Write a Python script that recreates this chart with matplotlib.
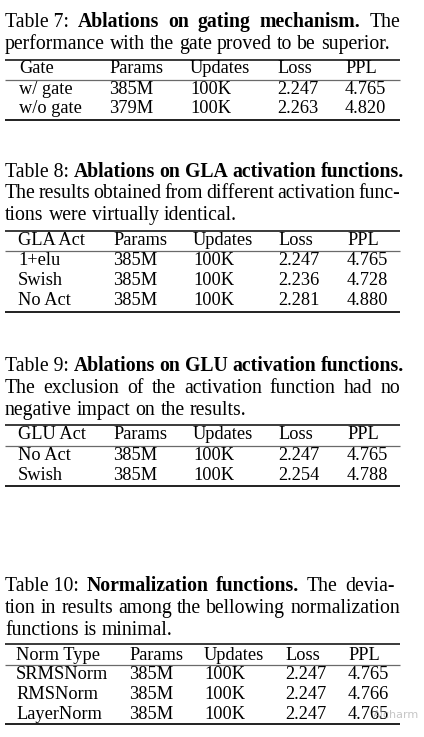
import matplotlib
matplotlib.use("Agg")
import matplotlib.pyplot as plt

# ---------------- data ----------------
cols7 = ["Gate", "Params", "Updates", "Loss", "PPL"]
rows7 = [["w/ gate", "385M", "100K", "2.247", "4.765"],
         ["w/o gate", "379M", "100K", "2.263", "4.820"]]
cap7 = [[("Table 7:", False), ("Ablations", True), ("on", True), ("gating", True),
         ("mechanism.", True), ("The", False)],
        [(w, False) for w in "performance with the gate proved to be superior.".split()]]

cols8 = ["GLA Act", "Params", "Updates", "Loss", "PPL"]
rows8 = [["1+elu", "385M", "100K", "2.247", "4.765"],
         ["Swish", "385M", "100K", "2.236", "4.728"],
         ["No Act", "385M", "100K", "2.281", "4.880"]]
cap8 = [[("Table 8:", False), ("Ablations", True), ("on", True), ("GLA", True),
         ("activation", True), ("functions.", True)],
        [(w, False) for w in "The results obtained from different activation func-".split()],
        [(w, False) for w in "tions were virtually identical.".split()]]

cols9 = ["GLU Act", "Params", "Updates", "Loss", "PPL"]
rows9 = [["No Act", "385M", "100K", "2.247", "4.765"],
         ["Swish", "385M", "100K", "2.254", "4.788"]]
cap9 = [[("Table 9:", False), ("Ablations", True), ("on", True), ("GLU", True),
         ("activation", True), ("functions.", True)],
        [(w, False) for w in "The exclusion of the activation function had no".split()],
        [(w, False) for w in "negative impact on the results.".split()]]

cols10 = ["Norm Type", "Params", "Updates", "Loss", "PPL"]
rows10 = [["SRMSNorm", "385M", "100K", "2.247", "4.765"],
          ["RMSNorm", "385M", "100K", "2.247", "4.766"],
          ["LayerNorm", "385M", "100K", "2.247", "4.765"]]
cap10 = [[("Table 10:", False), ("Normalization", True), ("functions.", True),
          ("The", False), ("devia-", False)],
         [(w, False) for w in "tion in results among the bellowing normalization".split()],
         [(w, False) for w in "functions is minimal.".split()]]

# ---------------- layout ----------------
FONT = "Liberation Serif"
CAP_FS = 14.2
TAB_FS = 13.2
W, H = 424, 737

fig = plt.figure(figsize=(W / 100, H / 100), dpi=100)
ax = fig.add_axes([0, 0, 1, 1])
ax.set_xlim(0, W)
ax.set_ylim(H, 0)
ax.axis("off")
fig.canvas.draw()
renderer = fig.canvas.get_renderer()


def width_of(s, bold, fs):
    t = ax.text(0, 0, s, fontsize=fs, family=FONT,
                fontweight="bold" if bold else "normal")
    w = t.get_window_extent(renderer).width
    t.remove()
    return w


def draw_line(segs, x0, y, x1=None, fs=CAP_FS):
    widths = [width_of(s, b, fs) for s, b in segs]
    if x1 is None or len(segs) < 2:
        gap = width_of("a a", False, fs) - width_of("aa", False, fs)
    else:
        gap = (x1 - x0 - sum(widths)) / (len(segs) - 1)
    x = x0
    for (s, b), w in zip(segs, widths):
        ax.text(x, y, s, fontsize=fs, family=FONT, va="baseline", ha="left",
                fontweight="bold" if b else "normal", color="black")
        x += w + gap


def draw_table(cap, cap_base, cap_right, cols, rows, colx, head_base, row_bases,
               top, mid, bot):
    for segs, yb, xr in zip(cap, cap_base, cap_right):
        draw_line(segs, 5, yb, xr)
    ax.plot([5, 400], [top, top], color="#3a3a3a", lw=1.4, solid_capstyle="butt")
    ax.plot([5, 400], [mid, mid], color="#6a6a6a", lw=0.9, solid_capstyle="butt")
    ax.plot([5, 400], [bot, bot], color="#202020", lw=1.4, solid_capstyle="butt")
    for c, x in zip(cols, colx):
        ax.text(x, head_base, c, fontsize=TAB_FS, family=FONT, va="baseline", ha="left")
    for r, yb in zip(rows, row_bases):
        for v, x in zip(r, colx):
            ax.text(x, yb, v, fontsize=TAB_FS, family=FONT, va="baseline", ha="left")


draw_table(cap7, [27, 49], [400, None], cols7, rows7,
           [19, 109, 190, 277, 345], 73, [94, 113], 60, 80, 120)
draw_table(cap8, [177, 198, 220], [404, 400, None], cols8, rows8,
           [18, 113, 193, 278, 347], 245, [265, 285, 305], 231, 251, 312)
draw_table(cap9, [371, 393, 415], [404, 400, None], cols9, rows9,
           [18, 113, 193, 278, 347], 439, [460, 480], 425, 446, 486)
draw_table(cap10, [591, 613, 635], [395, 400, None], cols10, rows10,
           [16, 129, 204, 285, 348], 660, [679, 699, 719], 644, 665, 724)

# faint watermark
ax.text(373, 718, "AIcharm", fontsize=8, family="DejaVu Sans", color="#a0a0a0",
        alpha=0.6, va="baseline", ha="left")

fig.savefig("out.png", dpi=100, facecolor="white")
